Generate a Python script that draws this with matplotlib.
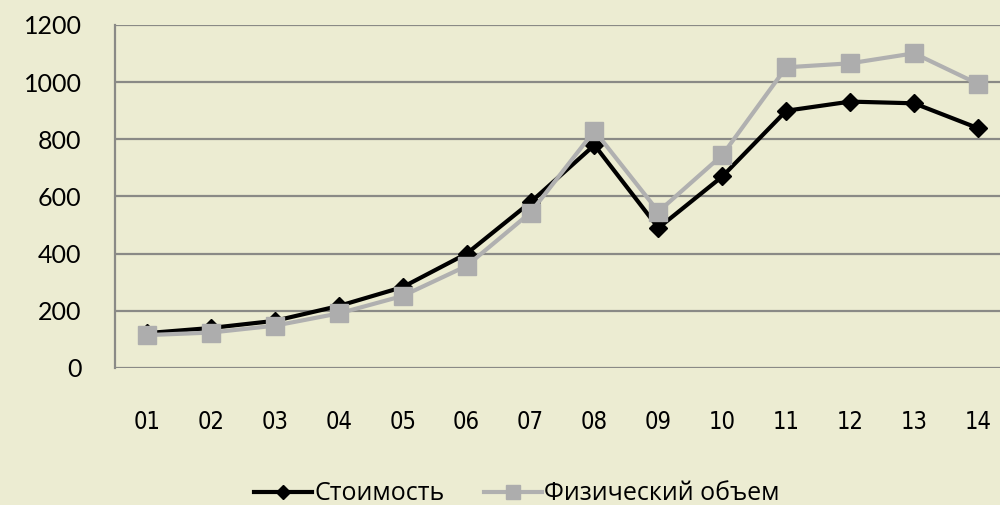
import matplotlib
matplotlib.use("Agg")
import matplotlib.pyplot as plt

years = ["01", "02", "03", "04", "05", "06", "07", "08", "09", "10", "11", "12", "13", "14"]
cost = [122, 140, 165, 217, 283, 400, 580, 780, 490, 670, 900, 932, 926, 839]
volume = [115, 124, 148, 191, 252, 357, 544, 830, 547, 745, 1052, 1066, 1101, 994]
yticks = [0, 200, 400, 600, 800, 1000, 1200]

bg = "#ECECD2"
grid_c = "#8A8A86"

fig = plt.figure(figsize=(10, 5.05), dpi=100, facecolor=bg)
ax = fig.add_axes([0.115, 0.2713, 0.895, 0.6792], facecolor=bg)

x = list(range(len(years)))
ax.plot(x, cost, color="black", lw=3, marker="D", ms=9, mfc="black", mec="black",
        label="Стоимость", zorder=3)
ax.plot(x, volume, color="#B0B0B0", lw=3, marker="s", ms=13, mfc="#ADADAD", mec="#ADADAD",
        label="Физический объем", zorder=4)

ax.set_xlim(-0.5, len(years) - 0.5)
ax.set_ylim(0, 1200)
ax.set_yticks(yticks)
ax.set_yticklabels([str(v) for v in yticks], fontsize=18, family="Lato")
ax.set_xticks(x)
ax.set_xticklabels(years, fontsize=17, family="DejaVu Sans", fontstretch="condensed")
ax.tick_params(axis="both", length=0)
ax.tick_params(axis="y", pad=24)
ax.tick_params(axis="x", pad=30)

for v in yticks:
    ax.axhline(v, color=grid_c, lw=1.6, zorder=1)
for s in ["top", "right", "bottom"]:
    ax.spines[s].set_visible(False)
ax.spines["left"].set_color(grid_c)
ax.spines["left"].set_linewidth(1.6)

leg = fig.legend(loc="center", bbox_to_anchor=(0.517, 0.022), ncol=2, frameon=False,
                 prop={"family": "Open Sans", "size": 18}, handlelength=2.3, handletextpad=0.1,
                 columnspacing=1.6, markerscale=0.75)

fig.savefig("out.png", dpi=100, facecolor=bg)
